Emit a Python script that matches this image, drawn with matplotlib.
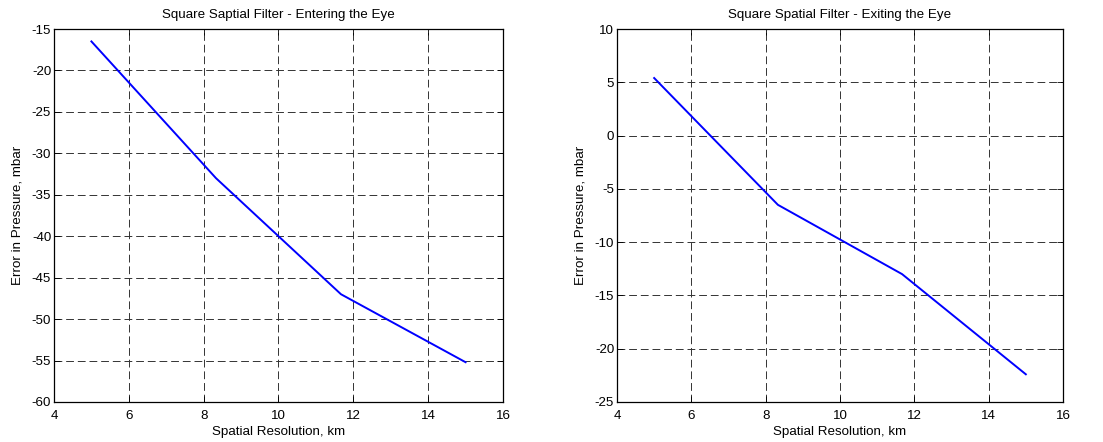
import matplotlib
matplotlib.use("Agg")
import matplotlib.pyplot as plt

plt.rcParams['font.family'] = ['Liberation Sans', 'DejaVu Sans']
plt.rcParams['axes.unicode_minus'] = False

res_km = [5.0, 8.33, 11.67, 15.0]
err_enter = [-16.5, -33.0, -47.0, -55.2]
err_exit = [5.4, -6.5, -13.0, -22.4]

x_ticks = [4, 6, 8, 10, 12, 14, 16]
enter_yticks = [-60, -55, -50, -45, -40, -35, -30, -25, -20, -15]
exit_yticks = [-25, -20, -15, -10, -5, 0, 5, 10]

titles = ["Square Saptial Filter - Entering the Eye", "Square Spatial Filter - Exiting the Eye"]
xlabel = "Spatial Resolution, km"
ylabel = "Error in Pressure, mbar"

FS = 9.6

fig = plt.figure(figsize=(11.03, 4.42), dpi=100)
W, H = 1103, 442
ax1 = fig.add_axes([54 / W, 1 - 402 / H, (503 - 54) / W, (402 - 29) / H])
ax2 = fig.add_axes([617 / W, 1 - 402 / H, (1063 - 617) / W, (402 - 29) / H])

for ax, y, yt, title in [(ax1, err_enter, enter_yticks, titles[0]), (ax2, err_exit, exit_yticks, titles[1])]:
    ax.plot(res_km, y, color=(0, 0, 1), lw=1.4)
    ax.set_xlim(x_ticks[0], x_ticks[-1])
    ax.set_ylim(yt[0], yt[-1])
    ax.set_xticks(x_ticks)
    ax.set_yticks(yt)
    ax.grid(True, color='#333333', linestyle=(0, (8, 4)), linewidth=0.7)
    ax.tick_params(direction='in', top=True, right=True, labelsize=FS, length=4, width=0.6)
    ax.tick_params(axis='x', pad=6)
    ax.tick_params(axis='y', pad=2)
    for s in ax.spines.values():
        s.set_linewidth(0.9)
    ax.set_title(title, fontsize=FS, pad=8)
    ax.set_xlabel(xlabel, fontsize=FS, labelpad=3)
    ax.set_ylabel(ylabel, fontsize=FS, labelpad=6)

fig.savefig("out.png", dpi=100, facecolor='white')
